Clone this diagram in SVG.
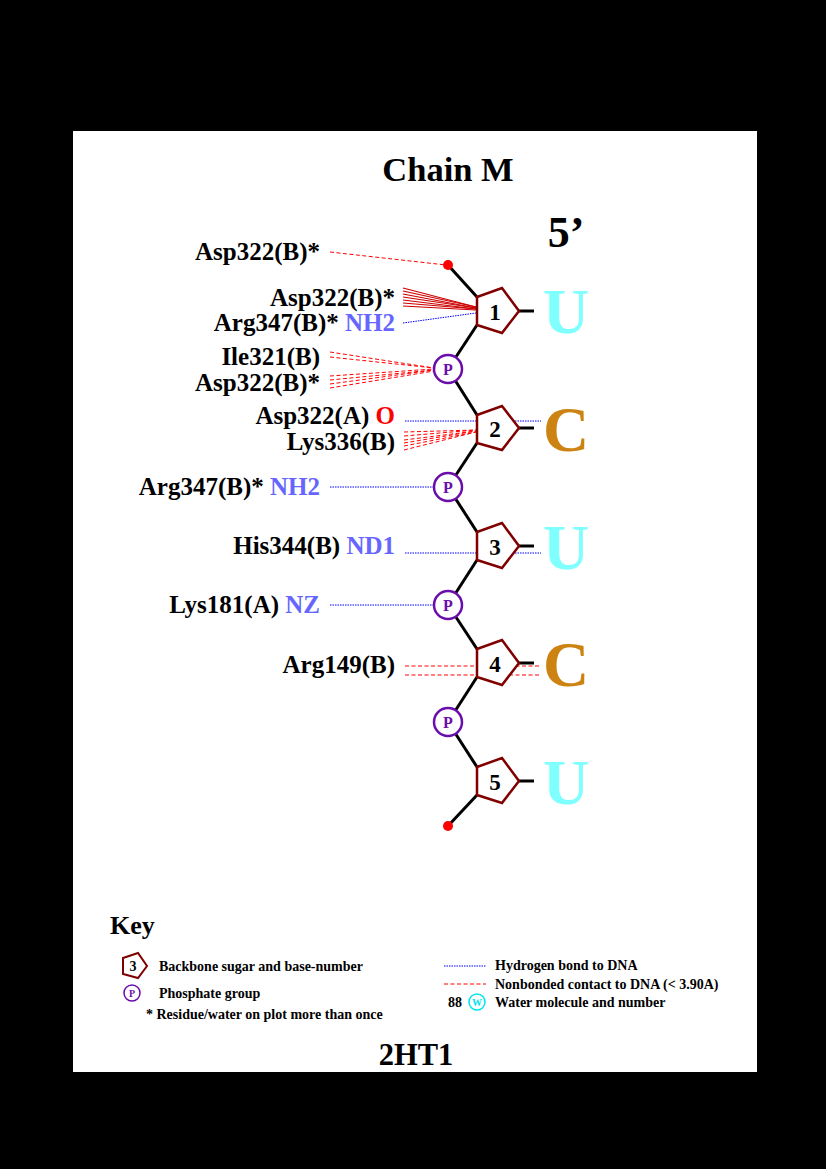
<svg xmlns="http://www.w3.org/2000/svg" width="826" height="1169" viewBox="0 0 826 1169">
<style>
.t{font-family:"Liberation Serif","Times New Roman",serif;font-weight:bold;}
.lab{font-size:25px;fill:#000;text-anchor:end;}
.atm{fill:#6666ff;}
.num{font-size:23px;text-anchor:middle;fill:#000;}
.base{font-size:64px;text-anchor:middle;}
.sugar{fill:#fff;stroke:#800000;stroke-width:2.5;}
.bb{stroke:#000;stroke-width:3;fill:none;}
.ph{fill:#fff;stroke:#6a0dad;stroke-width:2.5;}
.phT{font-size:16px;fill:#6a0dad;text-anchor:middle;}
.hb{stroke:#0000ff;stroke-width:1;stroke-dasharray:1.5 1;fill:none;}
.nb{stroke:#ff0000;stroke-width:1;stroke-dasharray:4 2.5;fill:none;}
.fan{stroke:#cc0000;stroke-width:1.2;fill:none;}
.key{font-size:14px;fill:#000;}
</style>
<rect x="0" y="0" width="826" height="1169" fill="#000"/>
<rect x="73" y="131" width="684" height="941" fill="#fff"/>
<text class="t" x="448" y="181" font-size="34.5" text-anchor="middle">Chain M</text>
<text class="t" x="566" y="247" font-size="44" text-anchor="middle">5’</text>

<g id="connectors">
<line class="nb" x1="330" y1="252" x2="446" y2="265"/>
<line class="fan" x1="403" y1="288" x2="476" y2="307"/>
<line class="fan" x1="403" y1="291" x2="476" y2="307"/>
<line class="fan" x1="403" y1="294" x2="476" y2="308"/>
<line class="fan" x1="403" y1="297" x2="476" y2="308"/>
<line class="fan" x1="403" y1="300" x2="476" y2="309"/>
<line class="fan" x1="403" y1="303" x2="476" y2="309"/>
<line class="fan" x1="403" y1="306" x2="476" y2="310"/>
<line class="hb" x1="403" y1="323" x2="476" y2="313"/>
<line class="nb" x1="330" y1="352" x2="434" y2="368"/>
<line class="nb" x1="330" y1="357" x2="434" y2="368"/>
<line class="nb" x1="330" y1="376" x2="434" y2="369"/>
<line class="nb" x1="330" y1="380" x2="434" y2="370"/>
<line class="nb" x1="330" y1="384" x2="434" y2="370"/>
<line class="nb" x1="330" y1="388" x2="434" y2="371"/>
<line class="hb" x1="405" y1="421" x2="541" y2="421"/>
<line class="nb" x1="404" y1="432" x2="476" y2="430"/>
<line class="nb" x1="404" y1="436" x2="476" y2="430"/>
<line class="nb" x1="404" y1="440" x2="476" y2="431"/>
<line class="nb" x1="404" y1="443" x2="476" y2="431"/>
<line class="nb" x1="404" y1="446" x2="476" y2="432"/>
<line class="nb" x1="404" y1="450" x2="476" y2="432"/>
<line class="hb" x1="330" y1="487" x2="434" y2="487"/>
<line class="hb" x1="405" y1="553" x2="541" y2="553"/>
<line class="hb" x1="330" y1="605" x2="434" y2="605"/>
<line class="nb" x1="405" y1="666" x2="541" y2="666"/>
<line class="nb" x1="405" y1="675" x2="541" y2="675"/>
</g>

<g id="backbone">
<line class="bb" x1="448" y1="265" x2="477" y2="297"/>
<line class="bb" x1="477" y1="325" x2="448" y2="369"/>
<line class="bb" x1="448" y1="369" x2="477" y2="415"/>
<line class="bb" x1="477" y1="443" x2="448" y2="487"/>
<line class="bb" x1="448" y1="487" x2="477" y2="532"/>
<line class="bb" x1="477" y1="560" x2="448" y2="605"/>
<line class="bb" x1="448" y1="605" x2="477" y2="649"/>
<line class="bb" x1="477" y1="677" x2="448" y2="722"/>
<line class="bb" x1="448" y1="722" x2="477" y2="767"/>
<line class="bb" x1="477" y1="795" x2="448" y2="826"/>
<circle cx="448" cy="265" r="5" fill="#ff0000"/>
<circle cx="448" cy="826" r="5" fill="#ff0000"/>
</g>

<g id="sugar1">
<line class="bb" x1="519" y1="311" x2="534" y2="311"/>
<polygon class="sugar" points="477,297 502,288 519,311 502,333 477,325"/>
<text class="t num" x="495" y="320">1</text>
</g>
<g id="sugar2">
<line class="bb" x1="519" y1="428" x2="534" y2="428"/>
<polygon class="sugar" points="477,415 502,406 519,428 502,450 477,443"/>
<text class="t num" x="495" y="437">2</text>
</g>
<g id="sugar3">
<line class="bb" x1="519" y1="546" x2="534" y2="546"/>
<polygon class="sugar" points="477,532 502,523 519,546 502,568 477,560"/>
<text class="t num" x="495" y="555">3</text>
</g>
<g id="sugar4">
<line class="bb" x1="519" y1="663" x2="534" y2="663"/>
<polygon class="sugar" points="477,649 502,640 519,663 502,685 477,677"/>
<text class="t num" x="495" y="672">4</text>
</g>
<g id="sugar5">
<line class="bb" x1="519" y1="781" x2="534" y2="781"/>
<polygon class="sugar" points="477,767 502,758 519,781 502,803 477,795"/>
<text class="t num" x="495" y="790">5</text>
</g>

<g id="bases">
<text class="t base" x="566" y="333" fill="#80ffff">U</text>
<text class="t base" x="566" y="451" fill="#cc8311">C</text>
<text class="t base" x="566" y="569" fill="#80ffff">U</text>
<text class="t base" x="566" y="686" fill="#cc8311">C</text>
<text class="t base" x="566" y="804" fill="#80ffff">U</text>
</g>

<g id="phosphate1"><circle class="ph" cx="448" cy="369" r="14"/><text class="t phT" x="448" y="375">P</text></g>
<g id="phosphate2"><circle class="ph" cx="448" cy="487" r="14"/><text class="t phT" x="448" y="493">P</text></g>
<g id="phosphate3"><circle class="ph" cx="448" cy="605" r="14"/><text class="t phT" x="448" y="611">P</text></g>
<g id="phosphate4"><circle class="ph" cx="448" cy="722" r="14"/><text class="t phT" x="448" y="728">P</text></g>

<g id="residues">
<text class="t lab" x="320" y="260">Asp322(B)*</text>
<text class="t lab" x="395" y="306">Asp322(B)*</text>
<text class="t lab" x="395" y="331">Arg347(B)* <tspan class="atm">NH2</tspan></text>
<text class="t lab" x="320" y="365">Ile321(B)</text>
<text class="t lab" x="320" y="391">Asp322(B)*</text>
<text class="t lab" x="395" y="424">Asp322(A) <tspan fill="#ff0000">O</tspan></text>
<text class="t lab" x="395" y="450">Lys336(B)</text>
<text class="t lab" x="320" y="495">Arg347(B)* <tspan class="atm">NH2</tspan></text>
<text class="t lab" x="395" y="554">His344(B) <tspan class="atm">ND1</tspan></text>
<text class="t lab" x="320" y="613">Lys181(A) <tspan class="atm">NZ</tspan></text>
<text class="t lab" x="395" y="673">Arg149(B)</text>
</g>

<g id="key">
<text class="t" x="110" y="934" font-size="26">Key</text>
<polygon points="123,958 138,953 147,966 138,978 123,974" fill="#fff" stroke="#800000" stroke-width="2"/>
<text class="t" x="133" y="971" font-size="14" text-anchor="middle">3</text>
<text class="t key" x="159" y="971">Backbone sugar and base-number</text>
<circle cx="132" cy="993" r="8" fill="#fff" stroke="#6a0dad" stroke-width="1.5"/>
<text class="t" x="132" y="997" font-size="10" fill="#6a0dad" text-anchor="middle">P</text>
<text class="t key" x="159" y="998">Phosphate group</text>
<text class="t key" x="146" y="1019">* Residue/water on plot more than once</text>
<line class="hb" x1="444" y1="966" x2="486" y2="966"/>
<text class="t key" x="495" y="970">Hydrogen bond to DNA</text>
<line class="nb" x1="444" y1="984" x2="486" y2="984"/>
<text class="t key" x="495" y="989">Nonbonded contact to DNA (&lt; 3.90A)</text>
<text class="t key" x="448" y="1007">88</text>
<circle cx="477" cy="1002" r="8" fill="#fff" stroke="#00e5ee" stroke-width="1.5"/>
<text class="t" x="477" y="1006" font-size="10" fill="#00e5ee" text-anchor="middle">W</text>
<text class="t key" x="495" y="1007">Water molecule and number</text>
</g>
<text class="t" x="416" y="1065" font-size="30.5" text-anchor="middle">2HT1</text>
</svg>
